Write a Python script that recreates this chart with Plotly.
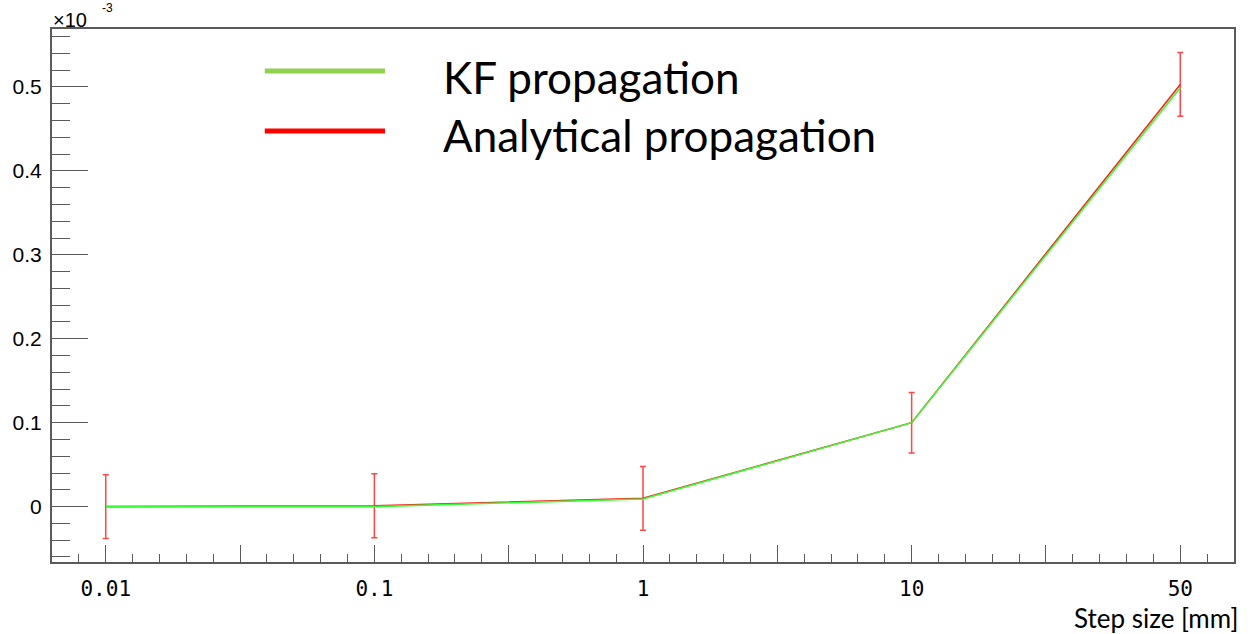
import plotly.graph_objects as go

# Step sizes (mm) and the resulting deviation (units of 1e-3)
step_labels = ["0.01", "0.1", "1", "10", "50"]
kf_values = [0.0, 0.0, 0.009, 0.1, 0.499]
analytic_values = [0.0, 0.001, 0.0098, 0.1, 0.503]
analytic_errors = [0.038, 0.038, 0.038, 0.036, 0.038]

x_pos = list(range(len(step_labels)))
half_pos = [i + 0.5 for i in range(len(step_labels) - 1)]

fig = go.Figure()

fig.add_trace(go.Scatter(
    x=x_pos, y=analytic_values, mode="lines",
    line=dict(color="#ff2020", width=1.6),
    error_y=dict(type="data", array=analytic_errors, visible=True,
                 color="rgba(255,50,50,0.9)", thickness=1.5, width=3),
    name="Analytical propagation", showlegend=False,
))
fig.add_trace(go.Scatter(
    x=x_pos, y=kf_values, mode="lines",
    line=dict(color="#33ff33", width=1.6),
    name="KF propagation", showlegend=False,
))

axis_col = "#5a5a5a"
x_range = [-0.2, 4.2]
fig.update_layout(
    xaxis=dict(
        range=x_range, showgrid=False, zeroline=False,
        showline=True, linecolor=axis_col, linewidth=2, mirror=True,
        ticks="inside", ticklen=17, tickwidth=1.3, tickcolor=axis_col,
        tickvals=x_pos, ticktext=step_labels,
        tickfont=dict(family="DejaVu Sans Mono", size=21, color="black"),
        ticklabelstandoff=7,
        minor=dict(ticks="inside", ticklen=8, tickwidth=1.3, tickcolor=axis_col,
                   dtick=0.1, tick0=0),
    ),
    # unlabelled major ticks halfway between the step sizes
    xaxis2=dict(
        overlaying="x", side="bottom", range=x_range,
        showgrid=False, zeroline=False, showline=False,
        ticks="inside", ticklen=17, tickwidth=1.3, tickcolor=axis_col,
        tickvals=half_pos, showticklabels=False,
    ),
    yaxis=dict(
        range=[-0.066, 0.569], showgrid=False, zeroline=False,
        showline=True, linecolor=axis_col, linewidth=2, mirror=True,
        ticks="inside", ticklen=36, tickwidth=1.3, tickcolor=axis_col,
        tickvals=[0, 0.1, 0.2, 0.3, 0.4, 0.5],
        ticktext=["0", "0.1", "0.2", "0.3", "0.4", "0.5"],
        tickfont=dict(family="Liberation Sans", size=21, color="black"),
        ticklabelstandoff=4,
        minor=dict(ticks="inside", ticklen=18, tickwidth=1.3, tickcolor=axis_col,
                   dtick=0.02, tick0=0),
    ),
)
# dummy trace so the secondary x axis is drawn
fig.add_trace(go.Scatter(x=[None], y=[None], xaxis="x2", showlegend=False,
                         hoverinfo="skip"))

# legend drawn as thick sample lines with large captions
legend_items = [("KF propagation", "#92d050", 0.921, 0.910),
                ("Analytical propagation", "#ff0000", 0.8086, 0.801)]
for text, col, ly, ty in legend_items:
    fig.add_shape(type="line", xref="paper", yref="paper",
                  x0=0.180, x1=0.2817, y0=ly, y1=ly,
                  line=dict(color=col, width=5))
    fig.add_annotation(xref="paper", yref="paper", x=0.329, y=ty,
                       xanchor="left", yanchor="middle", showarrow=False,
                       text=text, font=dict(family="Lato", size=44, color="black"))

fig.add_annotation(xref="paper", yref="paper", x=1.005, y=-0.105,
                   xanchor="right", yanchor="middle", showarrow=False,
                   text="Step size [mm]",
                   font=dict(family="Lato", size=26, color="black"))

# axis multiplier: mantissa and its raised exponent
fig.add_annotation(xref="paper", yref="paper", x=-0.001, y=1.016,
                   xanchor="left", yanchor="middle", showarrow=False,
                   text="×10", font=dict(family="Liberation Sans", size=20, color="black"))
fig.add_annotation(xref="paper", yref="paper", x=0.041, y=1.040,
                   xanchor="left", yanchor="middle", showarrow=False,
                   text="-3", font=dict(family="Liberation Sans", size=12, color="black"))

fig.update_layout(
    width=1248, height=634,
    margin=dict(l=52, r=14, t=29, b=72),
    paper_bgcolor="white", plot_bgcolor="white",
    showlegend=False,
)

fig.write_html("out.html")
